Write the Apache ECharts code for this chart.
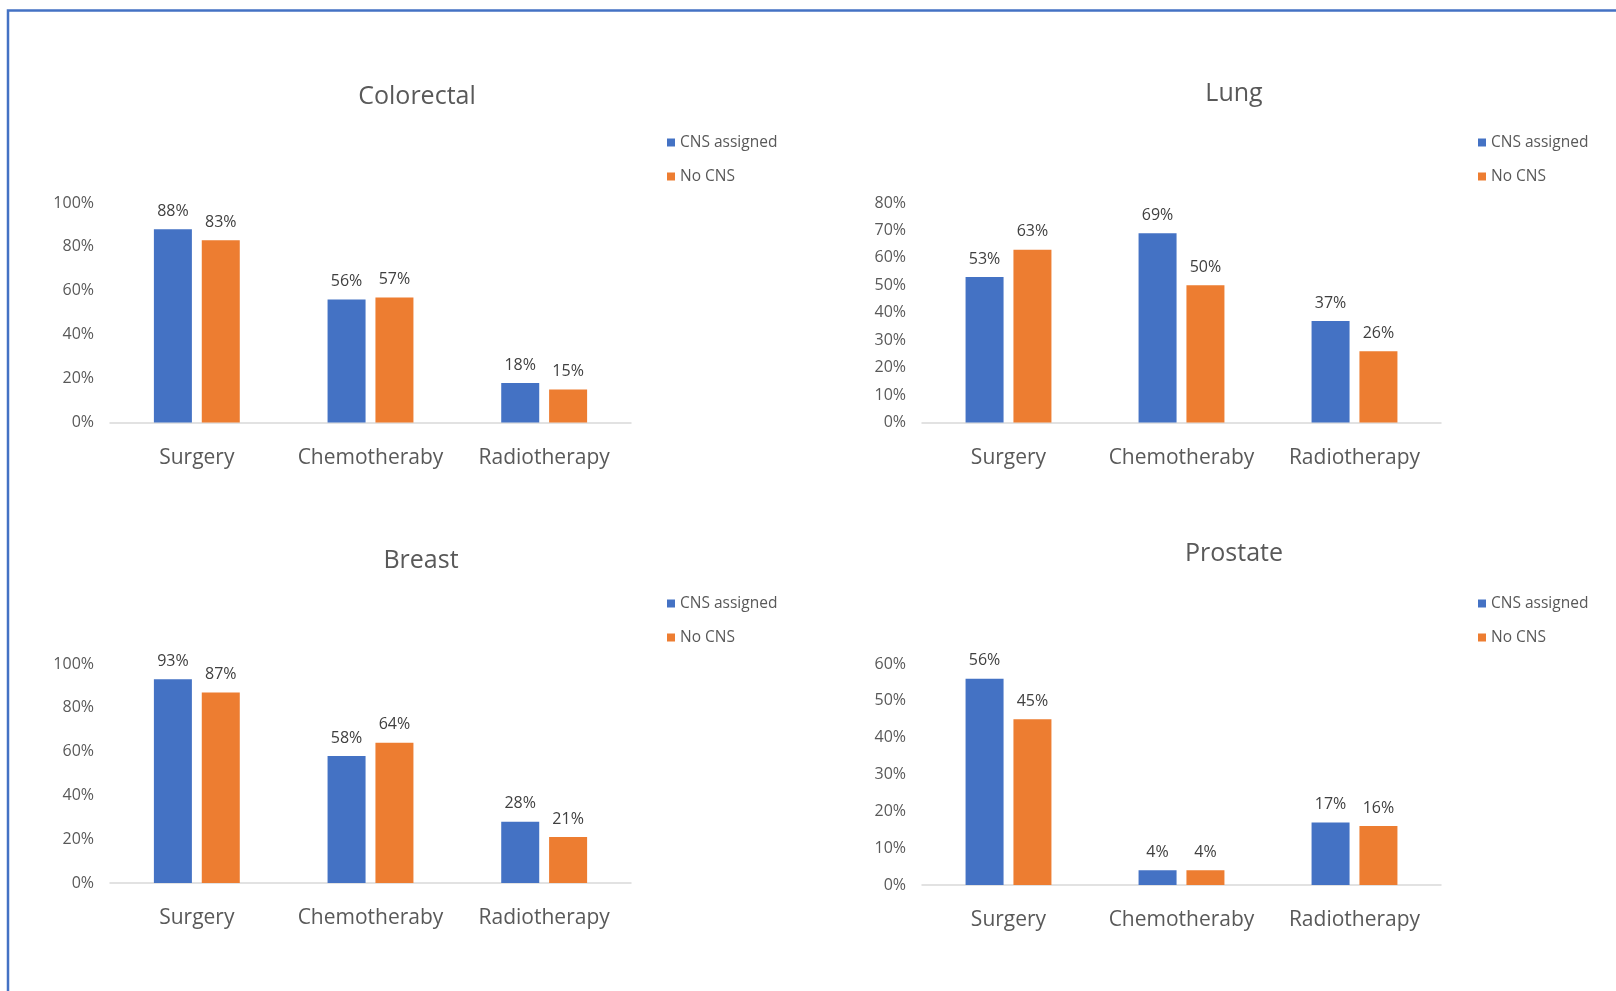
<!DOCTYPE html>
<html>
<head>
<meta charset="utf-8">
<script src="https://cdn.jsdelivr.net/npm/echarts@6/dist/echarts.min.js"></script>
<style>
  html, body { margin: 0; padding: 0; background: #ffffff; }
  #chart { width: 1616px; height: 991px; }
</style>
</head>
<body>
<div id="chart"></div>
<script>
// Treatment categories shared by all four panels
const categories = ['Surgery', 'Chemotheraby', 'Radiotherapy'];
const seriesNames = ['CNS assigned', 'No CNS'];

// Percent of patients receiving each treatment, per cancer site
const colorectalCNS = [88, 56, 18];
const colorectalNoCNS = [83, 57, 15];
const lungCNS = [53, 69, 37];
const lungNoCNS = [63, 50, 26];
const breastCNS = [93, 58, 28];
const breastNoCNS = [87, 64, 21];
const prostateCNS = [56, 4, 17];
const prostateNoCNS = [45, 4, 16];

// Value axis extents per panel
const axisMax = [100, 80, 100, 60];
const axisStep = [20, 10, 20, 10];

const panels = [
  { title: 'Colorectal', cns: colorectalCNS, none: colorectalNoCNS },
  { title: 'Lung', cns: lungCNS, none: lungNoCNS },
  { title: 'Breast', cns: breastCNS, none: breastNoCNS },
  { title: 'Prostate', cns: prostateCNS, none: prostateNoCNS }
];

const FONT = '"Open Sans", "Noto Sans", sans-serif';
const BLUE = '#4472C4';
const ORANGE = '#ED7D31';
const TEXT = '#595959';

// Panel layout: plot area rectangles, title centres, legend anchors
const layout = [
  { grid: { left: 110, top: 203, width: 521, height: 219.5 }, title: [417, 97], legend: [662, 128] },
  { grid: { left: 922, top: 203, width: 519, height: 219.5 }, title: [1234, 94], legend: [1473, 128] },
  { grid: { left: 110, top: 664, width: 521, height: 219 }, title: [421, 561], legend: [662, 589] },
  { grid: { left: 922, top: 664, width: 519, height: 221 }, title: [1234, 554], legend: [1473, 589] }
];

const grids = [], xAxes = [], yAxes = [], series = [], legends = [], graphics = [];

// Outer frame
graphics.push({
  type: 'rect',
  shape: { x: 8, y: 10.5, width: 1700, height: 1100 },
  style: { fill: 'none', stroke: BLUE, lineWidth: 2.5 },
  silent: true
});

panels.forEach((p, i) => {
  const L = layout[i];
  grids.push(Object.assign({ containLabel: false }, L.grid));
  xAxes.push({
    type: 'category',
    gridIndex: i,
    data: categories,
    axisLine: { lineStyle: { color: '#D9D9D9', width: 1.5 } },
    axisTick: { show: false },
    axisLabel: { interval: 0, hideOverlap: false, color: TEXT, fontFamily: FONT, fontSize: 21, margin: 25 }
  });
  yAxes.push({
    type: 'value',
    gridIndex: i,
    min: 0,
    max: axisMax[i],
    interval: axisStep[i],
    splitLine: { show: false },
    axisLine: { show: false },
    axisTick: { show: false },
    axisLabel: { color: TEXT, fontFamily: FONT, fontSize: 16, margin: 16, formatter: '{value}%' }
  });
  [[p.cns, BLUE, seriesNames[0]], [p.none, ORANGE, seriesNames[1]]].forEach(([vals, color, name]) => {
    series.push({
      type: 'bar',
      name: name,
      xAxisIndex: i,
      yAxisIndex: i,
      data: vals,
      barWidth: 38,
      barGap: '26%',
      itemStyle: { color: color },
      label: {
        show: true,
        position: 'top',
        distance: 10,
        color: '#404040',
        fontFamily: FONT,
        fontSize: 16,
        formatter: '{c}%'
      }
    });
  });
  legends.push({
    data: seriesNames,
    orient: 'vertical',
    left: L.legend[0],
    top: L.legend[1],
    itemWidth: 8,
    itemHeight: 8,
    itemGap: 15,
    icon: 'rect',
    textStyle: { color: TEXT, fontFamily: FONT, fontSize: 15.5, lineHeight: 19, padding: [0, 0, 0, 0] }
  });
  graphics.push({
    type: 'text',
    x: L.title[0],
    y: L.title[1],
    style: {
      text: p.title,
      fill: TEXT,
      font: '25px ' + FONT,
      align: 'center',
      verticalAlign: 'middle'
    }
  });
});

const chart = echarts.init(document.getElementById('chart'), null, { renderer: 'canvas' });
chart.setOption({
  backgroundColor: '#ffffff',
  animation: false,
  grid: grids,
  xAxis: xAxes,
  yAxis: yAxes,
  legend: legends,
  series: series,
  graphic: graphics
});
</script>
</body>
</html>
